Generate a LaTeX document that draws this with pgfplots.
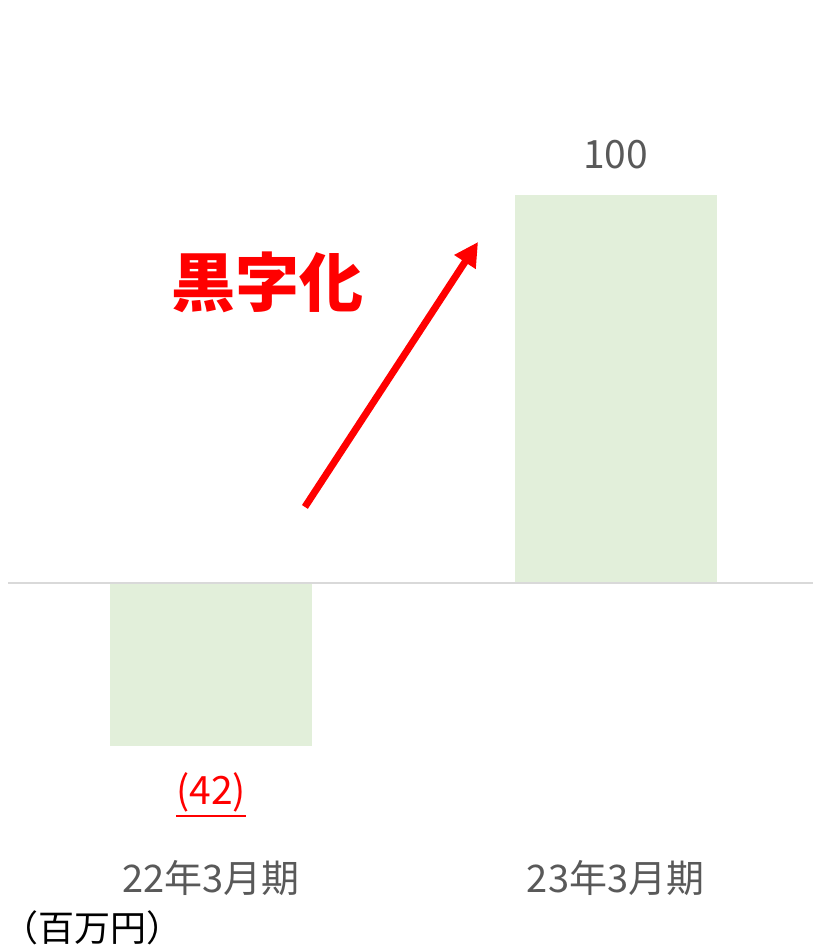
\documentclass[border=0pt]{standalone}
\usepackage{fontspec}
\setmainfont{Noto Sans CJK JP}
\usepackage{pgfplots}
\pgfplotsset{compat=1.18}
\usetikzlibrary{arrows.meta}
\definecolor{barfill}{HTML}{E2EFDA}
\definecolor{zeroline}{HTML}{D9D9D9}
\definecolor{textgray}{HTML}{595959}
\definecolor{accent}{HTML}{FF0000}
\newcommand{\redul}[1]{\vtop{\hbox{#1}\kern3pt\hrule height 1.8pt}}
\begin{document}
\begin{tikzpicture}[x=1pt,y=1pt]
\path[use as bounding box] (0,0) rectangle (813,946);
\begin{axis}[
  at={(8pt,130.2pt)}, anchor=south west,
  scale only axis, width=805pt, height=737.2pt,
  xmin=-0.502, xmax=1.488, ymin=-60, ymax=130,
  ybar, bar width=202pt, bar shift=0pt,
  axis line style={draw=none},
  ytick=\empty,
  xtick={0,1},
  xticklabels={22年3月期,23年3月期},
  major tick length=0pt,
  xticklabel style={anchor=center, yshift=-62pt, text=textgray,
    font=\fontsize{38}{42}\selectfont},
  /pgf/number format/assume math mode=true,
  clip=false,
]
\addplot[fill=barfill, draw=none,
  nodes near coords={\color{accent}\redul{(42)}},
  every node near coord/.append style={anchor=center, yshift=-49pt,
    text=accent, font=\fontsize{39}{42}\selectfont}]
  coordinates {(0,-42)};
\addplot[fill=barfill, draw=none,
  nodes near coords={\pgfmathprintnumber{\pgfplotspointmeta}},
  every node near coord/.append style={anchor=center, yshift=40pt,
    text=textgray, font=\fontsize{39}{42}\selectfont}]
  coordinates {(1,100)};
\draw[color=zeroline, line width=1.3pt] (axis cs:-0.502,0) -- (axis cs:1.488,0);
\draw[accent, line width=7pt, -{Triangle[length=24pt,width=24pt]}]
  (axis cs:0.232,19.6) -- (axis cs:0.660,87.9);
\end{axis}
\node[text=accent, font=\fontsize{64}{70}\selectfont\bfseries, inner sep=0pt] at (267,664) {黒字化};
\node[anchor=base west, inner sep=0pt, font=\fontsize{36}{40}\selectfont, text=black] at (2,5) {（百万円）};
\end{tikzpicture}
\end{document}
